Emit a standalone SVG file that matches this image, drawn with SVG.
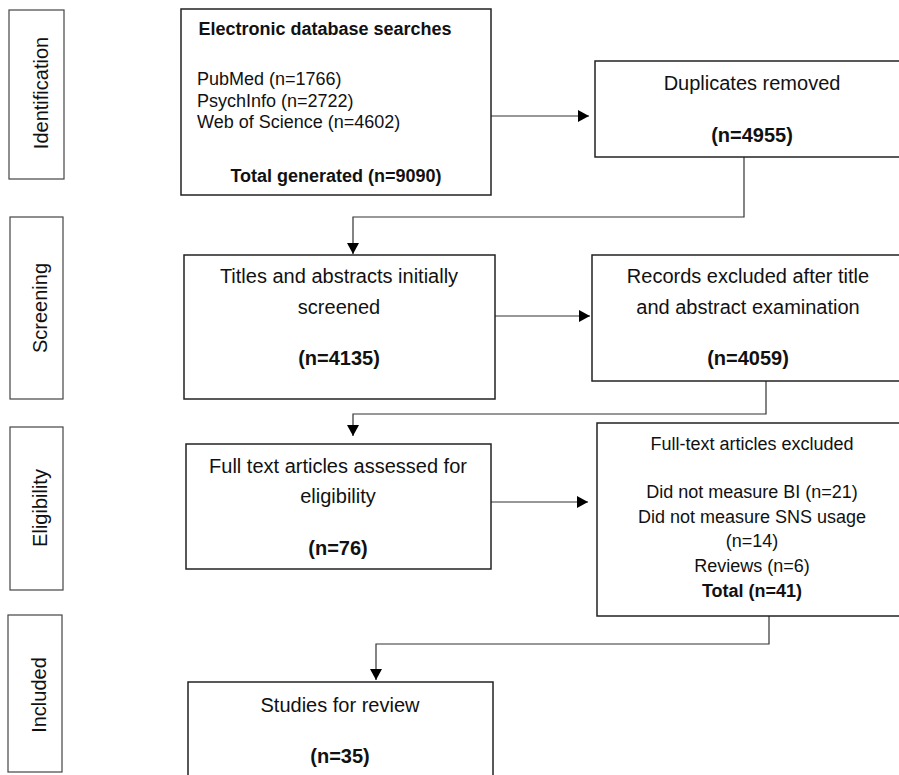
<svg xmlns="http://www.w3.org/2000/svg" width="899" height="775" viewBox="0 0 899 775">
<style>
  .box { fill: #fff; stroke: #222; stroke-width: 1.5; }
  .side { fill: #fff; stroke: #444; stroke-width: 1.2; }
  .t { font-family: "Liberation Sans", Arial, sans-serif; font-size: 20px; fill: #111; text-anchor: middle; }
  .s { font-size: 18px; }
  .b { font-weight: bold; }
  .l { text-anchor: start; }
  .conn { fill: none; stroke: #333; stroke-width: 1.2; marker-end: url(#arr); }
</style>
<defs>
  <marker id="arr" viewBox="0 0 11 12" refX="11" refY="6" markerWidth="11" markerHeight="12" markerUnits="userSpaceOnUse" orient="auto">
    <path d="M0,0 L11,6 L0,12 z" fill="#000"/>
  </marker>
</defs>
<rect width="899" height="775" fill="#fff"/>

<g id="phase-identification">
  <rect class="side" x="9" y="10" width="55" height="169"/>
  <text class="t" transform="translate(48,93) rotate(-90)">Identification</text>
</g>
<g id="phase-screening">
  <rect class="side" x="10" y="217" width="53" height="182"/>
  <text class="t" transform="translate(47,308) rotate(-90)">Screening</text>
</g>
<g id="phase-eligibility">
  <rect class="side" x="10" y="427" width="53" height="163"/>
  <text class="t" transform="translate(47,508) rotate(-90)">Eligibility</text>
</g>
<g id="phase-included">
  <rect class="side" x="8" y="615" width="54" height="157"/>
  <text class="t" transform="translate(46,695) rotate(-90)">Included</text>
</g>

<g id="connectors">
  <path class="conn" d="M491,116 H589"/>
  <path class="conn" d="M744,157 V217 H353 V254"/>
  <path class="conn" d="M495,316 H590"/>
  <path class="conn" d="M766,381 V414 H353 V436"/>
  <path class="conn" d="M491,502 H588"/>
  <path class="conn" d="M769,616 V644 H376 V680"/>
</g>

<g id="node-search">
  <rect class="box" x="181" y="9" width="310" height="186"/>
  <text class="t s b" x="325" y="35">Electronic database searches</text>
  <text class="t s l" x="197" y="85">PubMed (n=1766)</text>
  <text class="t s l" x="197" y="107">PsychInfo (n=2722)</text>
  <text class="t s l" x="197" y="128">Web of Science (n=4602)</text>
  <text class="t s b" x="336" y="182">Total generated (n=9090)</text>
</g>

<g id="node-duplicates">
  <rect class="box" x="595" y="61" width="312" height="96"/>
  <text class="t" x="752" y="90">Duplicates removed</text>
  <text class="t b" x="752" y="142">(n=4955)</text>
</g>

<g id="node-titles">
  <rect class="box" x="184" y="255" width="311" height="144"/>
  <text class="t" x="339" y="283">Titles and abstracts initially</text>
  <text class="t" x="339" y="314">screened</text>
  <text class="t b" x="339" y="365">(n=4135)</text>
</g>

<g id="node-records-excluded">
  <rect class="box" x="592" y="255" width="315" height="126"/>
  <text class="t" x="748" y="283">Records excluded after title</text>
  <text class="t" x="748" y="314">and abstract examination</text>
  <text class="t b" x="748" y="365">(n=4059)</text>
</g>

<g id="node-fulltext">
  <rect class="box" x="186" y="444" width="305" height="125"/>
  <text class="t" x="338" y="473">Full text articles assessed for</text>
  <text class="t" x="338" y="503">eligibility</text>
  <text class="t b" x="338" y="555">(n=76)</text>
</g>

<g id="node-fulltext-excluded">
  <rect class="box" x="597" y="423" width="310" height="193"/>
  <text class="t s" x="752" y="450">Full-text articles excluded</text>
  <text class="t s" x="752" y="498">Did not measure BI (n=21)</text>
  <text class="t s" x="752" y="523">Did not measure SNS usage</text>
  <text class="t s" x="752" y="547">(n=14)</text>
  <text class="t s" x="752" y="572">Reviews (n=6)</text>
  <text class="t s b" x="752" y="597">Total (n=41)</text>
</g>

<g id="node-studies">
  <rect class="box" x="188" y="682" width="305" height="100"/>
  <text class="t" x="340" y="712">Studies for review</text>
  <text class="t b" x="340" y="763">(n=35)</text>
</g>
</svg>
